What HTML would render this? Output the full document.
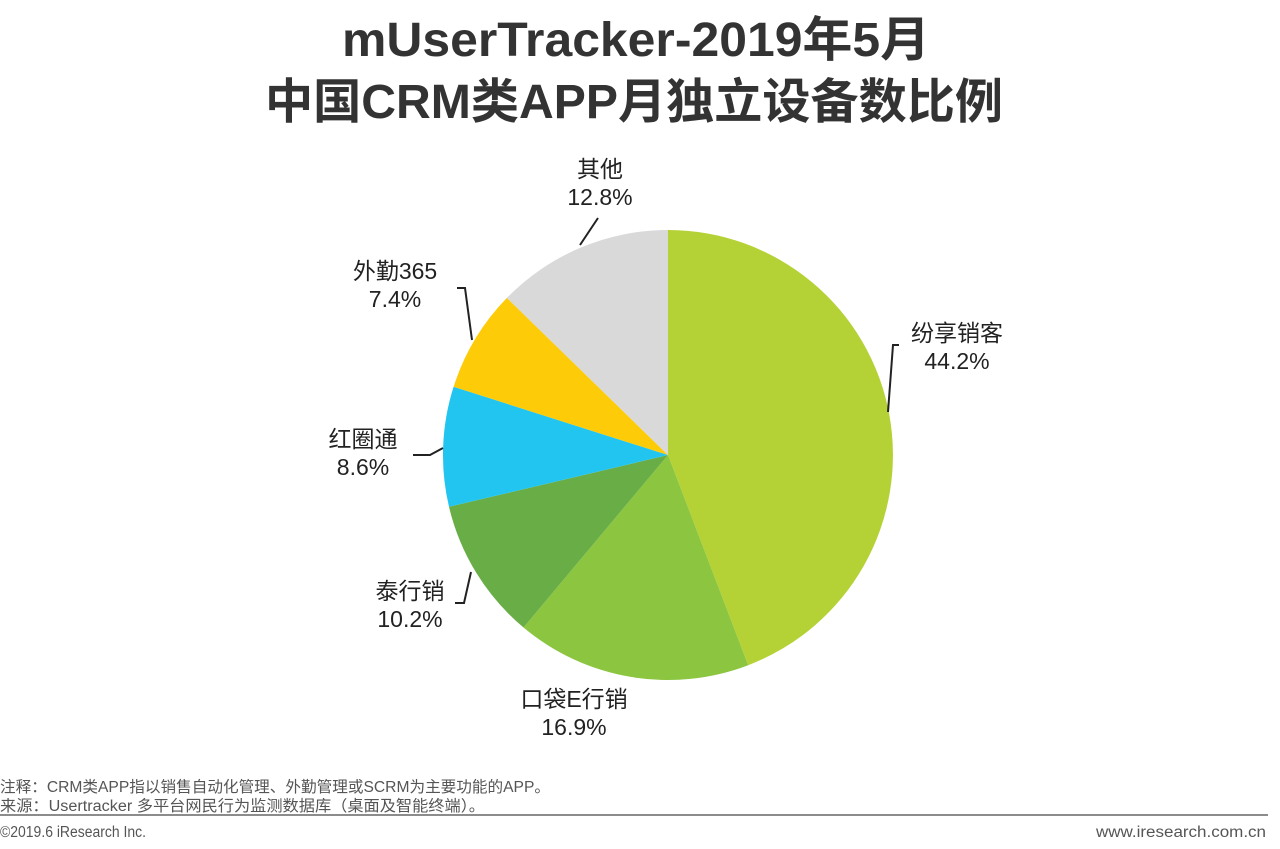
<!DOCTYPE html>
<html><head><meta charset="utf-8"><style>
body{margin:0;width:1280px;height:849px;background:#fff;overflow:hidden;font-family:"Liberation Sans","Noto Sans CJK SC",sans-serif;}
svg{position:absolute;left:0;top:0}
</style></head><body>
<svg width="1280" height="849" viewBox="0 0 1280 849" xmlns="http://www.w3.org/2000/svg">
<g font-family="Liberation Sans, Noto Sans CJK SC, sans-serif" font-weight="bold" fill="#333" text-anchor="middle" font-size="48">
<text x="636" y="56" textLength="588" lengthAdjust="spacingAndGlyphs">mUserTracker-2019年5月</text>
<text x="634" y="118" textLength="738" lengthAdjust="spacingAndGlyphs">中国CRM类APP月独立设备数比例</text>
</g>
<g stroke="none">
<path d="M668,455 L668,230 A225,225 0 0 1 748.2,665.2 Z" fill="#b4d235"/>
<path d="M668,455 L748.2,665.2 A225,225 0 0 1 523.5,627.5 Z" fill="#8cc540"/>
<path d="M668,455 L523.5,627.5 A225,225 0 0 1 449,506.8 Z" fill="#68ad45"/>
<path d="M668,455 L449,506.8 A225,225 0 0 1 453.6,386.8 Z" fill="#22c5ef"/>
<path d="M668,455 L453.6,386.8 A225,225 0 0 1 506.9,297.9 Z" fill="#fdcb07"/>
<path d="M668,455 L506.9,297.9 A225,225 0 0 1 668,230 Z" fill="#d9d9d9"/>
</g>
<g stroke="#222" stroke-width="2" fill="none">
<polyline points="888,412 893,345 899,345"/>
<polyline points="472,340 465,288 457,288"/>
<polyline points="443,448 430,455 413,455"/>
<polyline points="471,572 464,603 455,603"/>
<polyline points="580,245 598,218"/>
</g>
<g font-size="23" fill="#222" text-anchor="middle">
<text x="600" y="177">其他</text><text x="600" y="205">12.8%</text>
<text x="395" y="279">外勤365</text><text x="395" y="307">7.4%</text>
<text x="363" y="447">红圈通</text><text x="363" y="475">8.6%</text>
<text x="410" y="599">泰行销</text><text x="410" y="627">10.2%</text>
<text x="574" y="707">口袋E行销</text><text x="574" y="735">16.9%</text>
<text x="957" y="341">纷享销客</text><text x="957" y="369">44.2%</text>
</g>
<g font-size="15.5" fill="#555">
<text x="0" y="792" textLength="550" lengthAdjust="spacingAndGlyphs">注释：CRM类APP指以销售自动化管理、外勤管理或SCRM为主要功能的APP。</text>
<text x="0" y="811" textLength="485" lengthAdjust="spacingAndGlyphs">来源：Usertracker 多平台网民行为监测数据库（桌面及智能终端）。</text>
<text x="0" y="837" textLength="146" lengthAdjust="spacingAndGlyphs">©2019.6 iResearch Inc.</text>
<text x="1266" y="837" text-anchor="end" textLength="170" lengthAdjust="spacingAndGlyphs">www.iresearch.com.cn</text>
</g>
<line x1="0" y1="815" x2="1268" y2="815" stroke="#666" stroke-width="1.5"/>
</svg>
</body></html>
